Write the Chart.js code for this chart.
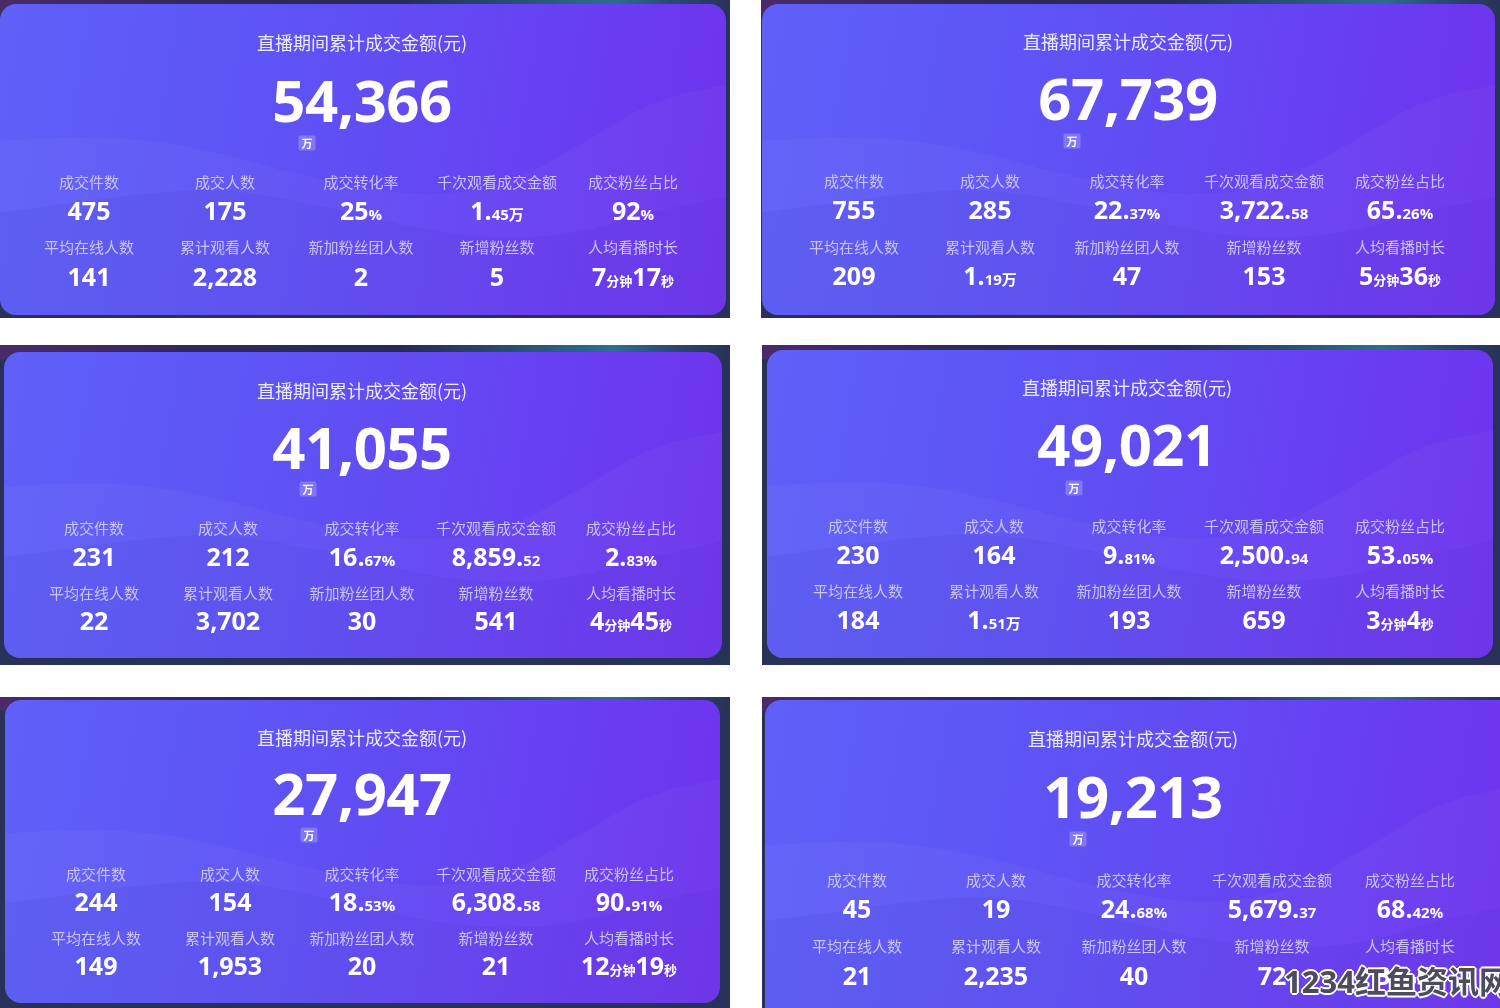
<!DOCTYPE html>
<html>
<head>
<meta charset="utf-8">
<script src="https://cdn.jsdelivr.net/npm/chart.js@4.4.1/dist/chart.umd.min.js"></script>
<style>
  html, body { margin: 0; padding: 0; background: #fff; }
  #page { position: relative; width: 1500px; height: 1008px; overflow: hidden; background: #fff; }
  .frame { position: absolute; background: #283258; overflow: hidden; }
  .frame .glow { position: absolute; left: 0; top: 0; right: 0; height: 14px;
    background: linear-gradient(90deg, #4b2a68 0%, #33285e 25%, #262a58 55%, #2c6f8c 84%, #2a4a72 92%, #283258 100%); }
  .card { position: absolute; border-radius: 16px; overflow: hidden;
    background: linear-gradient(100deg, #5e61f8 0%, #5f50f4 45%, #6a3cf1 80%, #6e33ec 100%); }
  .card canvas { position: absolute; left: 0; top: 0; }
  .t { position: absolute; transform: translate(-50%, -50%); white-space: nowrap; line-height: 1; }
  .title { font-family: "Noto Sans CJK SC", sans-serif; font-size: 18px; color: #ecebff; }
  .total { font-family: "Open Sans", sans-serif; font-weight: 700; font-size: 58px; color: #fff; letter-spacing: -0.5px; }
  .badge { font-family: "Noto Sans CJK SC", sans-serif; font-weight: 700; font-size: 11px; color: #fff;
    background: rgba(255,255,255,0.22); padding: 2px 3px; border-radius: 2px; }
  .label { font-family: "Noto Sans CJK SC", sans-serif; font-size: 15px; color: #c9c3f6; }
  .value { font-family: "Open Sans", "Noto Sans CJK SC", sans-serif; font-weight: 700; font-size: 25px; color: #fff; }
  .value small { font-size: 15px; font-weight: 700; }
  .value small.unit { font-size: 13px; }
  .mark { position: absolute; font-family: "Open Sans", "Noto Sans CJK SC", sans-serif; font-weight: 700; font-size: 31px;
    color: #4c4c5c; white-space: nowrap; line-height: 1;
    text-shadow: -2px 0 #fff, 2px 0 #fff, 0 -2px #fff, 0 2px #fff, -1px -1px #fff, 1px 1px #fff, -1px 1px #fff, 1px -1px #fff; }
</style>
</head>
<body>
<div id="page"></div>
<script>
// headline and metric texts
const cardTitle = '直播期间累计成交金额(元)';
const totals = ['54,366', '67,739', '41,055', '49,021', '27,947', '19,213'];
const totalUnit = '万';
const labelsTop = ['成交件数', '成交人数', '成交转化率', '千次观看成交金额', '成交粉丝占比'];
const labelsBottom = ['平均在线人数', '累计观看人数', '新加粉丝团人数', '新增粉丝数', '人均看播时长'];

// values per card, {..} marks the smaller part
const valuesTop = [
  ['475', '175', '25{%}', '1.{45万}', '92{%}'],
  ['755', '285', '22.{37%}', '3,722.{58}', '65.{26%}'],
  ['231', '212', '16.{67%}', '8,859.{52}', '2.{83%}'],
  ['230', '164', '9.{81%}', '2,500.{94}', '53.{05%}'],
  ['244', '154', '18.{53%}', '6,308.{58}', '90.{91%}'],
  ['45', '19', '24.{68%}', '5,679.{37}', '68.{42%}']
];
const valuesBottom = [
  ['141', '2,228', '2', '5', '7[分钟]17[秒]'],
  ['209', '1.{19万}', '47', '153', '5[分钟]36[秒]'],
  ['22', '3,702', '30', '541', '4[分钟]45[秒]'],
  ['184', '1.{51万}', '193', '659', '3[分钟]4[秒]'],
  ['149', '1,953', '20', '21', '12[分钟]19[秒]'],
  ['21', '2,235', '40', '72', '3[分钟]5[秒]']
];

// decorative background waves (percent of card height)
const waveX = ['0', '1', '2', '3', '4', '5', '6', '7', '8', '9', '10'];
const waveBack = [56, 57, 56, 52, 46, 41, 39, 43, 55, 68, 74];
const waveFront = [33, 36, 39, 40, 37, 32, 27, 25, 27, 33, 38];

// where each screenshot sits on the page
const layout = [
  { frame: [0, 0, 730, 318], card: [0, 4, 726, 311], cx: 362, titleY: 42, totalY: 100, badge: [307, 143],
    cols: [89, 225, 361, 497, 633], rows: [181, 210, 246, 276] },
  { frame: [761, 0, 739, 318], card: [762, 4, 733, 311], cx: 1128, titleY: 41, totalY: 98, badge: [1072, 141],
    cols: [854, 990, 1127, 1264, 1400], rows: [180, 209, 246, 275] },
  { frame: [0, 345, 730, 320], card: [4, 352, 718, 306], cx: 362, titleY: 390, totalY: 447, badge: [308, 489],
    cols: [94, 228, 362, 496, 631], rows: [527, 556, 592, 620] },
  { frame: [762, 345, 738, 320], card: [767, 350, 726, 308], cx: 1127, titleY: 387, totalY: 444, badge: [1074, 488],
    cols: [858, 994, 1129, 1264, 1400], rows: [525, 554, 590, 619] },
  { frame: [0, 697, 730, 311], card: [5, 700, 715, 303], cx: 362, titleY: 737, totalY: 793, badge: [309, 835],
    cols: [96, 230, 362, 496, 629], rows: [873, 901, 937, 965] },
  { frame: [762, 697, 738, 311], card: [765, 700, 750, 330], cx: 1133, titleY: 738, totalY: 796, badge: [1078, 839],
    cols: [857, 996, 1134, 1272, 1410], rows: [879, 908, 945, 975] }
];

const page = document.getElementById('page');

function fmt(s) {
  return s.replace(/\{([^}]*)\}/g, '<small>$1</small>')
          .replace(/\[([^\]]*)\]/g, '<small class="unit">$1</small>');
}

function addText(cls, x, y, html) {
  const el = document.createElement('div');
  el.className = 't ' + cls;
  el.style.left = x + 'px';
  el.style.top = y + 'px';
  el.innerHTML = html;
  page.appendChild(el);
}

layout.forEach((L, i) => {
  const frame = document.createElement('div');
  frame.className = 'frame';
  frame.style.cssText += `left:${L.frame[0]}px;top:${L.frame[1]}px;width:${L.frame[2]}px;height:${L.frame[3]}px;`;
  frame.innerHTML = '<div class="glow"></div>';
  page.appendChild(frame);

  const card = document.createElement('div');
  card.className = 'card';
  card.style.cssText += `left:${L.card[0]}px;top:${L.card[1]}px;width:${L.card[2]}px;height:${L.card[3]}px;`;
  const canvas = document.createElement('canvas');
  canvas.width = L.card[2];
  canvas.height = L.card[3];
  card.appendChild(canvas);
  page.appendChild(card);

  new Chart(canvas.getContext('2d'), {
    type: 'line',
    data: {
      labels: waveX,
      datasets: [
        { data: waveBack, fill: 'start', backgroundColor: 'rgba(255,255,255,0.03)', borderWidth: 0, pointRadius: 0, tension: 0.4 },
        { data: waveFront, fill: 'start', backgroundColor: 'rgba(40,20,150,0.06)', borderWidth: 0, pointRadius: 0, tension: 0.4 }
      ]
    },
    options: {
      responsive: false,
      animation: false,
      devicePixelRatio: 1,
      layout: { padding: 0 },
      plugins: { legend: { display: false }, tooltip: { enabled: false } },
      scales: {
        x: { display: false, offset: false },
        y: { display: false, min: 0, max: 100 }
      }
    }
  });

  addText('title', L.cx, L.titleY, cardTitle);
  addText('total', L.cx, L.totalY, totals[i]);
  addText('badge', L.badge[0], L.badge[1], totalUnit);
  L.cols.forEach((x, j) => {
    addText('label', x, L.rows[0], labelsTop[j]);
    addText('value', x, L.rows[1], fmt(valuesTop[i][j]));
    addText('label', x, L.rows[2], labelsBottom[j]);
    addText('value', x, L.rows[3], fmt(valuesBottom[i][j]));
  });
});

// site watermark in the lower right corner
const mark = document.createElement('div');
mark.className = 'mark';
mark.style.left = '1284px';
mark.style.top = '966px';
mark.textContent = '1234红鱼资讯网';
page.appendChild(mark);
</script>
</body>
</html>
